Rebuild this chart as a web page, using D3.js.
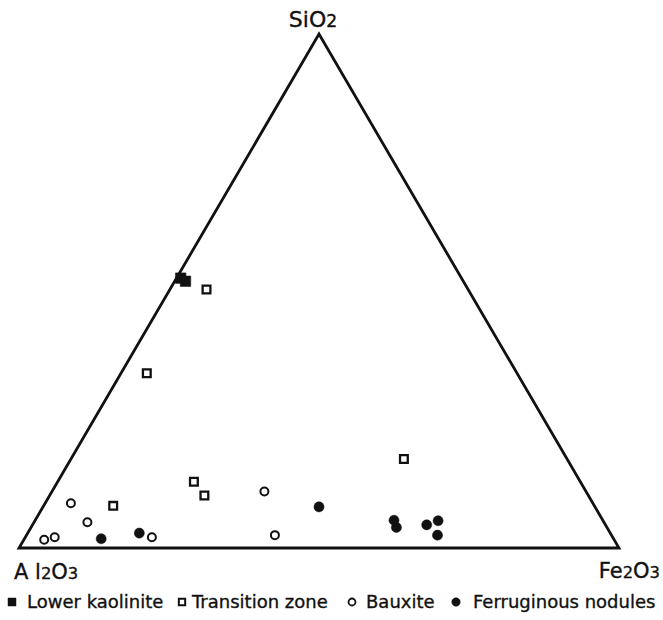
<!DOCTYPE html>
<html>
<head>
<meta charset="utf-8">
<script src="https://cdn.jsdelivr.net/npm/d3@7"></script>
<style>
  body { margin: 0; background: #fff; }
  text { font-family: "DejaVu Sans", sans-serif; fill: #111; stroke: #111; stroke-width: 0.35px; }
</style>
</head>
<body>
<svg width="663" height="620"></svg>
<script>
// ternary compositions in percent: SiO2, Al2O3, Fe2O3
const kaoliniteSi = [52.5, 51.9];
const kaoliniteFe = [0.7, 1.8];

const transitionSi = [8.2, 12.9, 10.2, 17.3, 50.3, 34.0];
const transitionFe = [11.6, 22.7, 25.8, 55.5, 6.1, 4.3];

const bauxiteSi = [8.7, 5.0, 1.6, 2.1, 2.1, 11.0, 2.5];
const bauxiteFe = [4.3, 8.9, 3.4, 4.9, 21.1, 35.4, 41.4];

const noduleSi = [1.8, 2.9, 8.0, 5.4, 4.0, 4.5, 5.3, 2.5];
const noduleFe = [12.8, 18.6, 46.0, 59.8, 60.9, 65.7, 67.2, 68.5];

const legendLabels = ['Lower kaolinite', 'Transition zone', 'Bauxite', 'Ferruginous nodules'];

const svg = d3.select('svg');

// the triangle: base Al2O3 (left) to Fe2O3 (right), apex SiO2
const xScale = d3.scaleLinear().domain([0, 100]).range([19, 619]);
const yScale = d3.scaleLinear().domain([0, 100]).range([548, 34]);

// horizontal position = Fe2O3 + SiO2/2, vertical = SiO2
const project = (si, fe) => [xScale(fe + si / 2), yScale(si)];

const corners = [[0, 0], [0, 100], [100, 0]].map(d => project(d[0], d[1]));
svg.append('path')
    .attr('d', d3.line()(corners) + 'Z')
    .attr('fill', 'none')
    .attr('stroke', '#111')
    .attr('stroke-width', 2.8)
    .attr('stroke-linejoin', 'miter');

// corner labels with subscripts
const label = (x, y, size, parts, anchor) => {
    const t = svg.append('text')
        .attr('x', x).attr('y', y)
        .attr('text-anchor', anchor)
        .style('font-size', size + 'px');
    parts.forEach(p => {
        t.append('tspan')
            .text(p[0])
            .style('font-size', p[1] ? (size * 0.78) + 'px' : null);
    });
};
label(313, 27, 22, [['SiO', 0], ['2', 1]], 'middle');
label(14, 579, 21, [['A l', 0], ['2', 1], ['O', 0], ['3', 1]], 'start');
label(660, 578, 21, [['Fe', 0], ['2', 1], ['O', 0], ['3', 1]], 'end');

const toPoints = (si, fe) => si.map((s, i) => project(s, fe[i]));

const drawMarks = (pts, type, size, fill, strokeW) => {
    svg.append('g').selectAll('path').data(pts)
        .enter().append('path')
        .attr('transform', d => `translate(${d[0]},${d[1]})`)
        .attr('d', d3.symbol().type(type).size(size))
        .attr('fill', fill)
        .attr('stroke', '#111')
        .attr('stroke-width', strokeW);
};

drawMarks(toPoints(transitionSi, transitionFe), d3.symbolSquare, 60, '#fff', 2.3);
drawMarks(toPoints(bauxiteSi, bauxiteFe), d3.symbolCircle, 50, '#fff', 2);
drawMarks(toPoints(noduleSi, noduleFe), d3.symbolCircle, 80, '#111', 0.5);
drawMarks(toPoints(kaoliniteSi, kaoliniteFe), d3.symbolSquare, 110, '#111', 0.5);

// legend
const legendX = [12, 182, 352, 456];
const legendTextX = [27, 192, 366, 473];
const legendTypes = [d3.symbolSquare, d3.symbolSquare, d3.symbolCircle, d3.symbolCircle];
const legendFill = ['#111', '#fff', '#fff', '#111'];
const legendSize = [64, 40, 38, 56];
const legendStroke = [0.5, 2, 1.8, 0.5];
const lg = svg.append('g');
legendLabels.forEach((name, i) => {
    lg.append('path')
        .attr('transform', `translate(${legendX[i]},602)`)
        .attr('d', d3.symbol().type(legendTypes[i]).size(legendSize[i]))
        .attr('fill', legendFill[i])
        .attr('stroke', '#111')
        .attr('stroke-width', legendStroke[i]);
    lg.append('text')
        .attr('x', legendTextX[i])
        .attr('y', 608)
        .style('font-size', '18px')
        .text(name);
});
</script>
</body>
</html>
